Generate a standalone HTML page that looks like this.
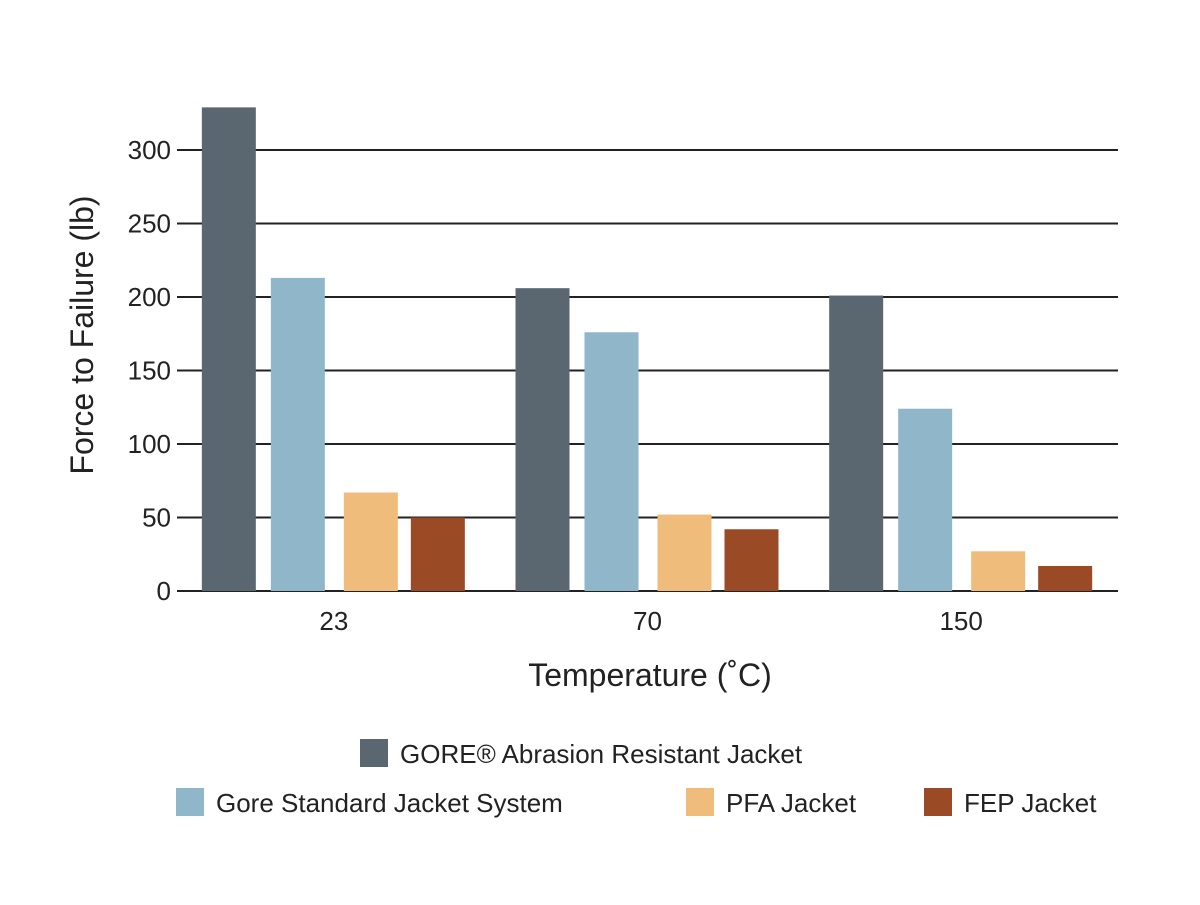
<!DOCTYPE html>
<html><head><meta charset="utf-8"><style>
body{margin:0;background:#fff;}
svg text{font-family:"Liberation Sans",sans-serif;fill:#222;}
</style></head><body>
<svg width="1200" height="900" xmlns="http://www.w3.org/2000/svg">
<g id="grid"></g>
<g id="bars"></g>
<g id="labels"></g>
<text x="650" y="686" font-size="32" text-anchor="middle">Temperature (˚C)</text>
<text transform="translate(93,335) rotate(-90)" font-size="32" text-anchor="middle">Force to Failure (lb)</text>
<g>
<g><rect x="360" y="739" width="28" height="28" fill="#5b6770"/><text x="400" y="763" font-size="26">GORE® Abrasion Resistant Jacket</text></g>
<g><rect x="176" y="788" width="28" height="28" fill="#8fb6c9"/><text x="216" y="812" font-size="26">Gore Standard Jacket System</text></g>
<g><rect x="686" y="788" width="28" height="28" fill="#f0bc7c"/><text x="726" y="812" font-size="26">PFA  Jacket</text></g>
<g><rect x="924" y="788" width="28" height="28" fill="#9a4a24"/><text x="964" y="812" font-size="26">FEP  Jacket</text></g>
</g>
</svg>
<script>
const categories=["23","70","150"];
const goreAbrasion=[329,206,201];
const goreStandard=[213,176,124];
const pfa=[67,52,27];
const fep=[50,42,17];
const yTicks=[0,50,100,150,200,250,300];
const seriesList=[goreAbrasion,goreStandard,pfa,fep];
const seriesNames=["gore-abrasion","gore-standard","pfa","fep"];
const colors=["#5b6770","#8fb6c9","#f0bc7c","#9a4a24"];
const NS="http://www.w3.org/2000/svg";
const x0=177,x1=1118,y0=591,pxPer=441/300;
const y=v=>y0-v*pxPer;
const band=(x1-x0)/categories.length;
const cx=i=>x0+band*(i+0.5);
const offsets=[-132,-63,10,77],bw=54;
const grid=document.getElementById('grid'),bars=document.getElementById('bars'),labels=document.getElementById('labels');
yTicks.forEach(t=>{
 const l=document.createElementNS(NS,'line');
 
 
 l.setAttribute('x1',x0);l.setAttribute('x2',x1);l.setAttribute('y1',y(t));l.setAttribute('y2',y(t));
 l.setAttribute('stroke','#222');l.setAttribute('stroke-width','2');
 grid.appendChild(l);
 const tx=document.createElementNS(NS,'text');
 
 
 tx.setAttribute('x',171);tx.setAttribute('y',y(t)+9);tx.setAttribute('font-size','26');tx.setAttribute('text-anchor','end');
 tx.textContent=t;labels.appendChild(tx);
});
categories.forEach((c,i)=>{
 seriesList.forEach((s,j)=>{
  const r=document.createElementNS(NS,'rect');
  
  
  r.setAttribute('x',cx(i)+offsets[j]);r.setAttribute('width',bw);
  r.setAttribute('y',y(s[i]));r.setAttribute('height',y0-y(s[i]));
  r.setAttribute('fill',colors[j]);bars.appendChild(r);
 });
 const tx=document.createElementNS(NS,'text');
 
 
 tx.setAttribute('x',cx(i));tx.setAttribute('y',630);tx.setAttribute('font-size','26');tx.setAttribute('text-anchor','middle');
 tx.textContent=c;labels.appendChild(tx);
});
</script>
</body></html>
